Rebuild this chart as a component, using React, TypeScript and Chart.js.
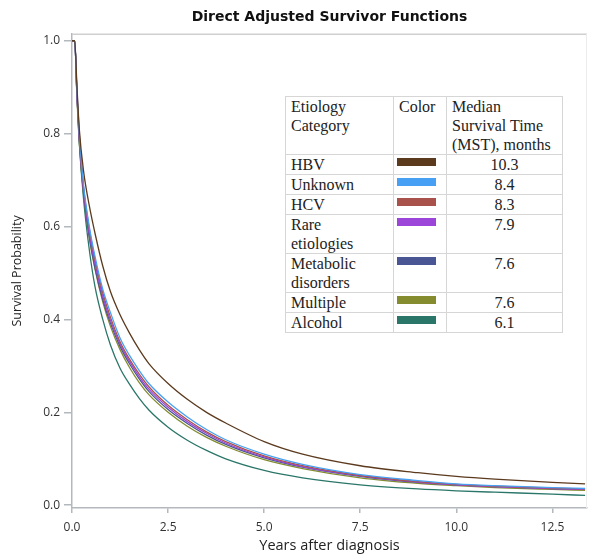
import React, { useEffect, useRef } from "react";
import { Chart, registerables } from "chart.js";

Chart.register(...registerables);

// Time after diagnosis (years)
const years = [0, 0.07, 0.13, 0.19, 0.3, 0.45, 0.6, 0.8, 1.0, 1.25, 1.5, 1.75, 2.0, 2.5, 3.0, 3.5, 4.0, 5.0, 6.0, 7.5, 9.0, 10.0, 11.0, 12.5, 13.35];

// Survival probabilities
const hbv = [1, 1, 0.9, 0.81, 0.72, 0.645, 0.585, 0.515, 0.46, 0.41, 0.37, 0.335, 0.305, 0.262, 0.228, 0.2, 0.177, 0.137, 0.11, 0.085, 0.07, 0.062, 0.056, 0.049, 0.046];
const unknown = [1, 1, 0.89, 0.8, 0.69, 0.6, 0.535, 0.465, 0.415, 0.36, 0.322, 0.29, 0.262, 0.222, 0.19, 0.163, 0.141, 0.11, 0.088, 0.066, 0.053, 0.046, 0.042, 0.038, 0.036];
const hcv = [1, 1, 0.885, 0.795, 0.685, 0.595, 0.528, 0.458, 0.405, 0.352, 0.314, 0.282, 0.255, 0.215, 0.184, 0.158, 0.137, 0.106, 0.085, 0.064, 0.051, 0.045, 0.041, 0.037, 0.035];
const rare = [1, 1, 0.88, 0.79, 0.68, 0.585, 0.52, 0.45, 0.398, 0.347, 0.309, 0.277, 0.25, 0.211, 0.18, 0.155, 0.134, 0.104, 0.083, 0.063, 0.05, 0.044, 0.04, 0.036, 0.034];
const metabolic = [1, 1, 0.88, 0.785, 0.672, 0.578, 0.51, 0.443, 0.392, 0.342, 0.304, 0.272, 0.245, 0.206, 0.176, 0.151, 0.131, 0.102, 0.082, 0.062, 0.049, 0.044, 0.04, 0.036, 0.034];
const multiple = [1, 1, 0.875, 0.78, 0.67, 0.575, 0.508, 0.438, 0.385, 0.335, 0.296, 0.264, 0.238, 0.2, 0.17, 0.146, 0.127, 0.098, 0.079, 0.059, 0.047, 0.042, 0.038, 0.034, 0.032];
const alcohol = [1, 1, 0.88, 0.78, 0.66, 0.55, 0.47, 0.4, 0.345, 0.295, 0.26, 0.23, 0.205, 0.168, 0.14, 0.118, 0.1, 0.075, 0.059, 0.044, 0.035, 0.031, 0.028, 0.024, 0.021];

const categories = ["HBV", "Unknown", "HCV", "Rare etiologies", "Metabolic disorders", "Multiple", "Alcohol"];
const categoryLines = [["HBV"], ["Unknown"], ["HCV"], ["Rare", "etiologies"], ["Metabolic", "disorders"], ["Multiple"], ["Alcohol"]];
const medianMonths = ["10.3", "8.4", "8.3", "7.9", "7.6", "7.6", "6.1"];
const colors = ["#5c3a1e", "#48a0f4", "#a9524b", "#9c45d9", "#4a5593", "#848c2f", "#2a7669"];
const seriesValues = [hbv, unknown, hcv, rare, metabolic, multiple, alcohol];

const xTicks = [0, 2.5, 5, 7.5, 10, 12.5];
const yTicks = [0, 0.2, 0.4, 0.6, 0.8, 1.0];

const axisColor = "#b3b8bd";

const framePlugin = {
  id: "frame",
  beforeDatasetsDraw(chart: any) {
    const { ctx, chartArea } = chart;
    const { left, top, right, bottom } = chartArea;
    ctx.save();
    ctx.strokeStyle = "#cfcfcf";
    ctx.lineWidth = 1.5;
    ctx.beginPath();
    ctx.moveTo(left, top + 0.5);
    ctx.lineTo(right, top + 0.5);
    ctx.stroke();
    ctx.strokeStyle = "#ececec";
    ctx.lineWidth = 1;
    ctx.beginPath();
    ctx.moveTo(right - 0.5, top);
    ctx.lineTo(right - 0.5, bottom);
    ctx.stroke();
    ctx.restore();
  },
};

function SurvivalChart() {
  const ref = useRef<HTMLCanvasElement | null>(null);
  useEffect(() => {
    if (!ref.current) return;
    const datasets = categories.map((name, i) => ({
      label: name,
      data: years.map((t, j) => ({ x: t, y: seriesValues[i][j] })),
      borderColor: colors[i],
      backgroundColor: colors[i],
      borderWidth: 1.3,
      pointRadius: 0,
      cubicInterpolationMode: "monotone" as const,
      fill: false,
    }));
    const chart = new Chart(ref.current, {
      type: "line",
      data: { datasets },
      plugins: [framePlugin],
      options: {
        responsive: false,
        animation: false,
        layout: { padding: { left: 0, right: 2, top: 0, bottom: 0 } },
        plugins: {
          legend: { display: false },
          tooltip: { enabled: false },
          title: {
            display: true,
            text: "Direct Adjusted Survivor Functions",
            fullSize: false,
            color: "#111",
            font: { family: "'DejaVu Sans', sans-serif", size: 14, weight: "bold", lineHeight: 1.2 },
            padding: { top: 9, bottom: 8 },
          },
        },
        scales: {
          x: {
            type: "linear",
            min: 0,
            max: 13.4,
            afterFit: (scale: any) => {
              scale.height = 50;
            },
            afterBuildTicks: (scale: any) => {
              scale.ticks = xTicks.map((v) => ({ value: v }));
            },
            ticks: {
              color: "#333",
              font: { family: "'Open Sans', sans-serif", size: 12 },
              padding: 7,
              maxRotation: 0,
              callback: (v: any) => Number(v).toFixed(1),
            },
            grid: { display: true, drawOnChartArea: false, drawTicks: true, tickLength: 5, color: axisColor, lineWidth: 1.5 },
            border: { display: true, color: axisColor, width: 1.5 },
            title: {
              display: true,
              text: "Years after diagnosis",
              color: "#222",
              font: { family: "'Open Sans', sans-serif", size: 14.5, lineHeight: 1.2 },
              padding: { top: 0, bottom: 3 },
            },
          },
          y: {
            type: "linear",
            min: -0.006,
            max: 1.015,
            afterFit: (scale: any) => {
              scale.width = 72;
            },
            afterBuildTicks: (scale: any) => {
              scale.ticks = yTicks.map((v) => ({ value: v }));
            },
            ticks: {
              color: "#333",
              font: { family: "'Open Sans', sans-serif", size: 12 },
              padding: 4,
              callback: (v: any) => Number(v).toFixed(1),
            },
            grid: { display: true, drawOnChartArea: false, drawTicks: true, tickLength: 8, color: axisColor, lineWidth: 1.5 },
            border: { display: true, color: axisColor, width: 1.5 },
            title: {
              display: true,
              text: "Survival Probability",
              color: "#222",
              font: { family: "'Open Sans', sans-serif", size: 12.5, lineHeight: 1.2 },
              padding: { top: 10, bottom: 0 },
            },
          },
        },
      },
    });
    return () => chart.destroy();
  }, []);
  return <canvas ref={ref} width={589} height={558} style={{ width: 589, height: 558, display: "block" }} />;
}

const cellStyle: React.CSSProperties = {
  border: "1.5px solid #d6d6d6",
  padding: "0 5px",
  verticalAlign: "top",
  whiteSpace: "nowrap",
};

function EtiologyTable() {
  return (
    <table
      style={{
        position: "absolute",
        left: 285,
        top: 96,
        width: 277,
        borderCollapse: "collapse",
        tableLayout: "fixed",
        background: "#fff",
        fontFamily: "'Liberation Serif', 'Times New Roman', serif",
        fontSize: 16,
        lineHeight: "19px",
        color: "#222",
      }}
    >
      <colgroup>
        <col style={{ width: 108 }} />
        <col style={{ width: 53 }} />
        <col style={{ width: 116 }} />
      </colgroup>
      <tbody>
        <tr>
          <td style={cellStyle}>
            Etiology
            <br />
            Category
          </td>
          <td style={cellStyle}>Color</td>
          <td style={cellStyle}>
            Median
            <br />
            Survival Time
            <br />
            (MST), months
          </td>
        </tr>
        {categories.map((name, i) => (
          <tr key={name}>
            <td style={cellStyle}>
              {categoryLines[i].map((line, k) => (
                <React.Fragment key={k}>
                  {k > 0 && <br />}
                  {line}
                </React.Fragment>
              ))}
            </td>
            <td style={{ ...cellStyle, padding: "0 3px" }}>
              <div style={{ width: 39, height: 8, marginTop: 3, background: colors[i] }} />
            </td>
            <td style={{ ...cellStyle, textAlign: "center" }}>{medianMonths[i]}</td>
          </tr>
        ))}
      </tbody>
    </table>
  );
}

export default function App() {
  return (
    <div style={{ position: "absolute", left: 0, top: 0, width: 589, height: 558, background: "#fff", overflow: "hidden" }}>
      <SurvivalChart />
      <EtiologyTable />
    </div>
  );
}
